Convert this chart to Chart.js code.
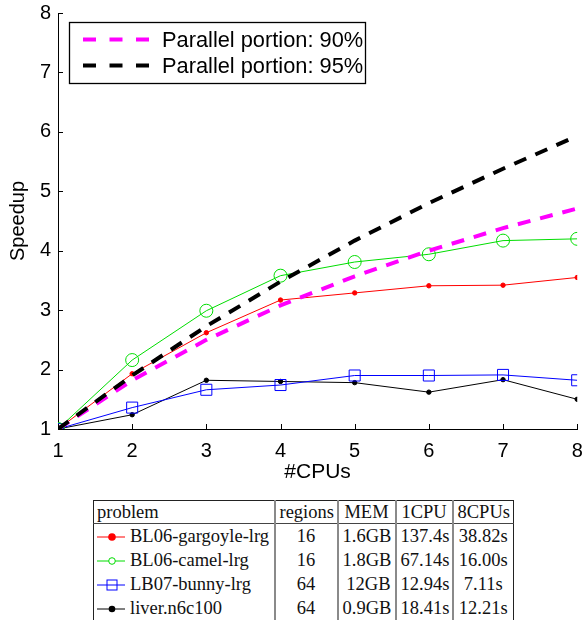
<!DOCTYPE html>
<html>
<head>
<meta charset="utf-8">
<script src="https://cdn.jsdelivr.net/npm/chart.js@4.4.1/dist/chart.umd.min.js"></script>
<style>
  html, body { margin: 0; padding: 0; background: #fff; width: 586px; height: 620px; overflow: hidden; }
  #wrap { position: absolute; left: 0; top: 0; width: 586px; height: 490px; }
  #tbl { position: absolute; left: 93px; top: 500px; border-collapse: collapse; table-layout: fixed; width: 420px;
         font-family: "Liberation Serif", "Times New Roman", serif; font-size: 18.5px; color: #111;
         border: 1.5px solid #222; }
  #tbl td { padding: 0 4px; height: 24px; line-height: 20px; white-space: nowrap; border-left: 2px solid #8a8a8a; overflow: hidden; }
  #tbl td:first-child { border-left: none; padding-left: 3px; }
  #tbl tr.h td { height: 22px; border-bottom: 1.5px solid #444; }
  #tbl td.c { text-align: center; }
  #tbl td.r { text-align: right; }
  #tbl svg { vertical-align: -2px; margin-right: 5px; }
</style>
</head>
<body>
<div id="wrap"><canvas id="c" width="586" height="490"></canvas></div>
<table id="tbl">
  <colgroup><col style="width:181px"><col style="width:63px"><col style="width:58px"><col style="width:57px"><col style="width:61px"></colgroup>
  <tbody id="tb"></tbody>
</table>
<script>
// ---- data ----
const cpus = [1, 2, 3, 4, 5, 6, 7, 8];
const amdahl90 = [1, 1.82, 2.50, 3.08, 3.57, 4.00, 4.38, 4.71];
const amdahl95 = [1, 1.90, 2.73, 3.48, 4.17, 4.80, 5.38, 5.93];
const gargoyle = [1, 1.93, 2.62, 3.17, 3.29, 3.41, 3.42, 3.55];
const camel    = [1, 2.16, 2.99, 3.58, 3.81, 3.94, 4.17, 4.20];
const bunny    = [1, 1.36, 1.66, 1.74, 1.90, 1.90, 1.91, 1.82];
const liver    = [1, 1.24, 1.82, 1.80, 1.78, 1.62, 1.83, 1.50];
const legendLabels = ['Parallel portion: 90%', 'Parallel portion: 95%'];
const tableHeader = ['problem', 'regions', 'MEM', '1CPU', '8CPUs'];
const problems = ['BL06-gargoyle-lrg', 'BL06-camel-lrg', 'LB07-bunny-lrg', 'liver.n6c100'];
const regions = ['16', '16', '64', '64'];
const mem = ['1.6GB', '1.8GB', '12GB', '0.9GB'];
const cpu1 = ['137.4s', '67.14s', '12.94s', '18.41s'];
const cpu8 = ['38.82s', '16.00s', '7.11s', '12.21s'];
const yTicks = [1, 2, 3, 4, 5, 6, 7, 8];

const pts = arr => cpus.map((x, i) => ({ x: x, y: arr[i] }));

// ---- table ----
const markerSvg = [
  '<svg width="28" height="14"><line x1="0" y1="7" x2="28" y2="7" stroke="#ff0000" stroke-width="1"/><circle cx="15" cy="7" r="3.8" fill="#ff0000"/></svg>',
  '<svg width="28" height="14"><line x1="0" y1="7" x2="28" y2="7" stroke="#00dd00" stroke-width="1"/><circle cx="15" cy="7" r="3.3" fill="#fff" stroke="#00dd00"/></svg>',
  '<svg width="28" height="14"><line x1="0" y1="7" x2="28" y2="7" stroke="#0000ff" stroke-width="1"/><rect x="10" y="2" width="10" height="10" fill="none" stroke="#0000ff"/></svg>',
  '<svg width="28" height="14"><line x1="0" y1="7" x2="28" y2="7" stroke="#000" stroke-width="1"/><circle cx="15" cy="7" r="3.3" fill="#000"/></svg>'
];
let html = '<tr class="h">' + tableHeader.map((h, i) => '<td' + (i === 0 ? '' : ' class="c"') + '>' + h + '</td>').join('') + '</tr>';
problems.forEach((p, i) => {
  html += '<tr><td>' + markerSvg[i] + p + '</td><td class="c">' + regions[i] + '</td><td class="r">' + mem[i] +
          '</td><td class="r">' + cpu1[i] + '</td><td class="c">' + cpu8[i] + '</td></tr>';
});
document.getElementById('tb').innerHTML = html;

// ---- chart ----
const FONT = 'Liberation Sans, Arial, sans-serif';

const inwardTicks = {
  id: 'inwardTicks',
  afterDraw(chart) {
    const ctx = chart.ctx, xs = chart.scales.x, ys = chart.scales.y, a = chart.chartArea;
    ctx.save();
    ctx.strokeStyle = '#000';
    ctx.lineWidth = 1;
    ctx.beginPath();
    cpus.forEach(v => { const px = Math.round(xs.getPixelForValue(v)) + 0.5; ctx.moveTo(px, a.bottom); ctx.lineTo(px, a.bottom - 5); });
    yTicks.forEach(v => { const py = Math.round(ys.getPixelForValue(v)) + 0.5; ctx.moveTo(a.left, py); ctx.lineTo(a.left + 5, py); });
    ctx.stroke();
    ctx.restore();
  }
};

const boxLegend = {
  id: 'boxLegend',
  afterDraw(chart) {
    const ctx = chart.ctx;
    const x0 = 69.5, y0 = 22.5, w = 296, h = 61;
    ctx.save();
    ctx.fillStyle = '#fff';
    ctx.fillRect(x0, y0, w, h);
    ctx.strokeStyle = '#000';
    ctx.lineWidth = 1.3;
    ctx.strokeRect(x0, y0, w, h);
    ctx.font = '21.8px ' + FONT;
    ctx.textBaseline = 'middle';
    ctx.fillStyle = '#000';
    [0, 1].forEach(i => {
      const ds = chart.data.datasets[i];
      const y = y0 + 17 + i * 26;
      ctx.strokeStyle = ds.borderColor;
      ctx.lineWidth = ds.borderWidth;
      ctx.setLineDash([13, 13.5]);
      ctx.beginPath();
      ctx.moveTo(83, y);
      ctx.lineTo(150, y);
      ctx.stroke();
      ctx.setLineDash([]);
      ctx.fillText(ds.label, 162, y + 1);
    });
    ctx.restore();
  }
};

const common = { showLine: true, tension: 0, fill: false };

new Chart(document.getElementById('c'), {
  type: 'scatter',
  data: {
    datasets: [
      Object.assign({ label: legendLabels[0], data: pts(amdahl90), borderColor: '#ff00ff', borderWidth: 4, borderDash: [13, 10], pointRadius: 0, order: 1 }, common),
      Object.assign({ label: legendLabels[1], data: pts(amdahl95), borderColor: '#000000', borderWidth: 4, borderDash: [13, 10], pointRadius: 0, order: 0 }, common),
      Object.assign({ label: problems[0], data: pts(gargoyle), borderColor: '#ff0000', backgroundColor: '#ff0000', borderWidth: 1, pointRadius: 2.2, pointBorderWidth: 1, pointStyle: 'circle', order: 3 }, common),
      Object.assign({ label: problems[1], data: pts(camel), borderColor: '#00dd00', backgroundColor: 'rgba(0,0,0,0)', borderWidth: 1, pointRadius: 6.5, pointBorderWidth: 1, pointStyle: 'circle', order: 2 }, common),
      Object.assign({ label: problems[2], data: pts(bunny), borderColor: '#0000ff', backgroundColor: 'rgba(0,0,0,0)', borderWidth: 1, pointRadius: 7.8, pointBorderWidth: 1, pointStyle: 'rect', order: 4 }, common),
      Object.assign({ label: problems[3], data: pts(liver), borderColor: '#000000', backgroundColor: '#000000', borderWidth: 1, pointRadius: 2.2, pointBorderWidth: 1, pointStyle: 'circle', order: 5 }, common)
    ]
  },
  options: {
    responsive: false,
    animation: false,
    devicePixelRatio: 1,
    layout: { padding: { top: 13, right: 8, left: 0, bottom: 0 } },
    plugins: { legend: { display: false }, tooltip: { enabled: false } },
    scales: {
      x: {
        type: 'linear', min: 1, max: 8,
        afterFit: s => { s.height = 61; s.paddingLeft = 0; s.paddingRight = 0; },
        afterBuildTicks: s => { s.ticks = cpus.map(v => ({ value: v })); },
        ticks: { color: '#000', font: { family: FONT, size: 20 }, padding: 10, maxRotation: 0 },
        grid: { display: true, drawOnChartArea: false, drawTicks: false, color: 'rgba(0,0,0,0)' },
        border: { display: true, color: '#000', width: 1 },
        title: { display: true, text: '#CPUs', color: '#000', font: { family: FONT, size: 21 }, padding: { top: 0, bottom: 5 } }
      },
      y: {
        type: 'linear', min: 1, max: 8,
        afterFit: s => { s.width = 58; s.paddingTop = 0; s.paddingBottom = 0; },
        afterBuildTicks: s => { s.ticks = yTicks.map(v => ({ value: v })); },
        ticks: { color: '#000', font: { family: FONT, size: 20 }, padding: 7 },
        grid: { display: true, drawOnChartArea: false, drawTicks: false, color: 'rgba(0,0,0,0)' },
        border: { display: true, color: '#000', width: 1 },
        title: { display: true, text: 'Speedup', color: '#000', font: { family: FONT, size: 20 }, padding: { top: 6, bottom: 0 } }
      }
    }
  },
  plugins: [inwardTicks, boxLegend]
});
</script>
</body>
</html>
